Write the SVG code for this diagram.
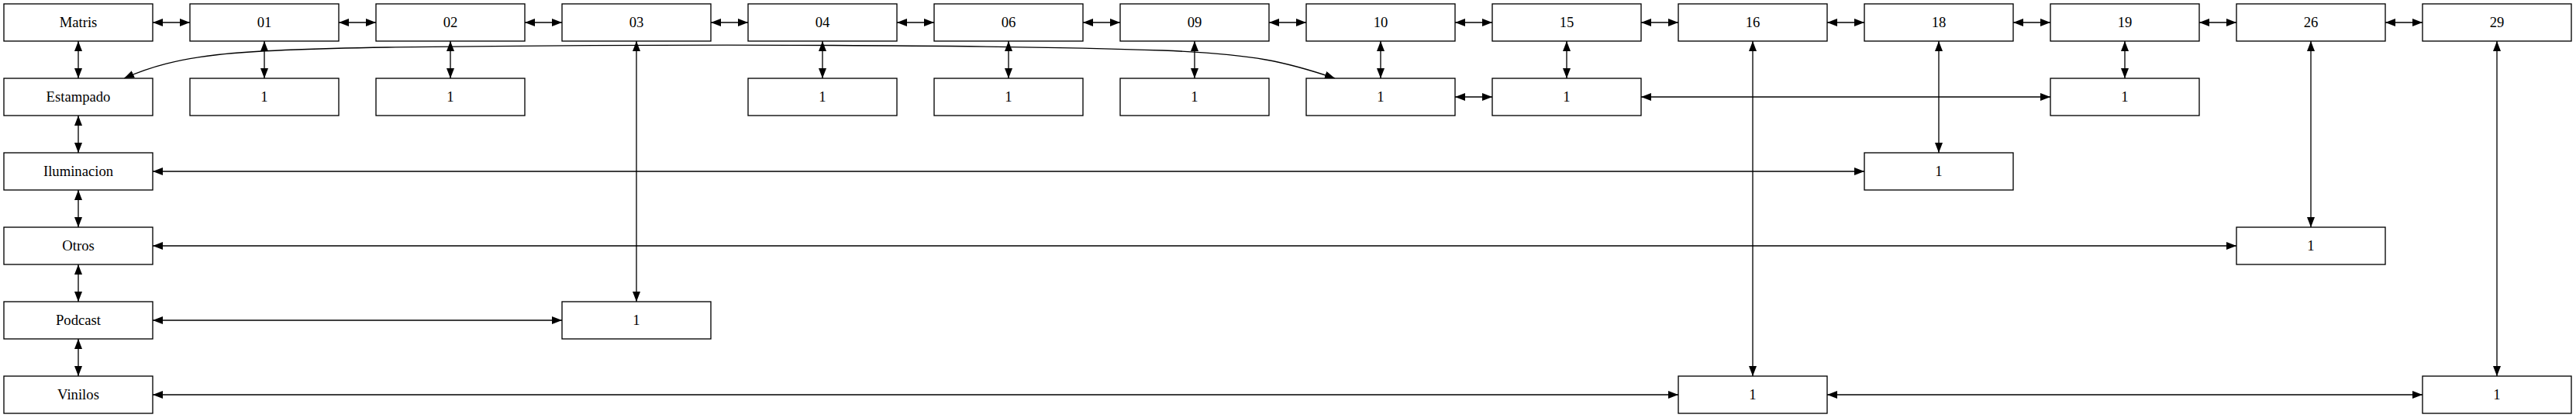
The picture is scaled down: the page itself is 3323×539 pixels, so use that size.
<svg xmlns="http://www.w3.org/2000/svg" width="3323" height="539" viewBox="0 0 3323 539">
<defs>
<marker id="ah" viewBox="0 0 13 10" refX="13" refY="5" markerWidth="13" markerHeight="10" markerUnits="userSpaceOnUse" orient="auto-start-reverse">
<path d="M0,0 L13,5 L0,10 z" fill="#000"/>
</marker>
<style>
.n rect{fill:#fff;stroke:#000;stroke-width:1.33}
.n text{font-family:"Liberation Serif","Times New Roman",serif;font-size:18.67px;text-anchor:middle;fill:#000}
#edges path{fill:none;stroke:#000;stroke-width:1.33;marker-start:url(#ah);marker-end:url(#ah)}
</style>
</defs>
<rect width="3323" height="539" fill="#fff"/>
<g id="edges">
<path d="M197,29 H245"/><path d="M437,29 H485"/><path d="M677,29 H725"/><path d="M917,29 H965"/>
<path d="M1157,29 H1205"/><path d="M1397,29 H1445"/><path d="M1637,29 H1685"/><path d="M1877,29 H1925"/>
<path d="M2117,29 H2165"/><path d="M2357,29 H2405"/><path d="M2597,29 H2645"/><path d="M2837,29 H2885"/>
<path d="M3077,29 H3125"/>
<path d="M101,53 V101"/><path d="M101,149 V197"/><path d="M101,245 V293"/><path d="M101,341 V389"/><path d="M101,437 V485"/>
<path d="M341,53 V101"/><path d="M581,53 V101"/><path d="M1061,53 V101"/><path d="M1301,53 V101"/>
<path d="M1541,53 V101"/><path d="M1781,53 V101"/><path d="M2021,53 V101"/><path d="M2741,53 V101"/>
<path d="M821,53 V389"/><path d="M2261,53 V485"/><path d="M2501,53 V197"/><path d="M2981,53 V293"/><path d="M3221,53 V485"/>
<path d="M1877,125 H1925"/><path d="M2117,125 H2645"/>
<path d="M197,221 H2405"/><path d="M197,317 H2885"/><path d="M197,413 H725"/>
<path d="M197,509 H2165"/><path d="M2357,509 H3125"/>
<path d="M160,101 C230,70 300,64 500,61 C900,56 1300,58 1500,65 C1620,70 1660,80 1722,101"/>
</g>
<g id="n_matris" class="n"><rect x="5" y="5" width="192" height="48"/><text x="101" y="34.5">Matris</text></g>
<g id="n_01" class="n"><rect x="245" y="5" width="192" height="48"/><text x="341" y="34.5">01</text></g>
<g id="n_02" class="n"><rect x="485" y="5" width="192" height="48"/><text x="581" y="34.5">02</text></g>
<g id="n_03" class="n"><rect x="725" y="5" width="192" height="48"/><text x="821" y="34.5">03</text></g>
<g id="n_04" class="n"><rect x="965" y="5" width="192" height="48"/><text x="1061" y="34.5">04</text></g>
<g id="n_06" class="n"><rect x="1205" y="5" width="192" height="48"/><text x="1301" y="34.5">06</text></g>
<g id="n_09" class="n"><rect x="1445" y="5" width="192" height="48"/><text x="1541" y="34.5">09</text></g>
<g id="n_10" class="n"><rect x="1685" y="5" width="192" height="48"/><text x="1781" y="34.5">10</text></g>
<g id="n_15" class="n"><rect x="1925" y="5" width="192" height="48"/><text x="2021" y="34.5">15</text></g>
<g id="n_16" class="n"><rect x="2165" y="5" width="192" height="48"/><text x="2261" y="34.5">16</text></g>
<g id="n_18" class="n"><rect x="2405" y="5" width="192" height="48"/><text x="2501" y="34.5">18</text></g>
<g id="n_19" class="n"><rect x="2645" y="5" width="192" height="48"/><text x="2741" y="34.5">19</text></g>
<g id="n_26" class="n"><rect x="2885" y="5" width="192" height="48"/><text x="2981" y="34.5">26</text></g>
<g id="n_29" class="n"><rect x="3125" y="5" width="192" height="48"/><text x="3221" y="34.5">29</text></g>
<g id="n_estampado" class="n"><rect x="5" y="101" width="192" height="48"/><text x="101" y="130.5">Estampado</text></g>
<g id="n_01_1" class="n"><rect x="245" y="101" width="192" height="48"/><text x="341" y="130.5">1</text></g>
<g id="n_02_1" class="n"><rect x="485" y="101" width="192" height="48"/><text x="581" y="130.5">1</text></g>
<g id="n_04_1" class="n"><rect x="965" y="101" width="192" height="48"/><text x="1061" y="130.5">1</text></g>
<g id="n_06_1" class="n"><rect x="1205" y="101" width="192" height="48"/><text x="1301" y="130.5">1</text></g>
<g id="n_09_1" class="n"><rect x="1445" y="101" width="192" height="48"/><text x="1541" y="130.5">1</text></g>
<g id="n_10_1" class="n"><rect x="1685" y="101" width="192" height="48"/><text x="1781" y="130.5">1</text></g>
<g id="n_15_1" class="n"><rect x="1925" y="101" width="192" height="48"/><text x="2021" y="130.5">1</text></g>
<g id="n_19_1" class="n"><rect x="2645" y="101" width="192" height="48"/><text x="2741" y="130.5">1</text></g>
<g id="n_iluminacion" class="n"><rect x="5" y="197" width="192" height="48"/><text x="101" y="226.5">Iluminacion</text></g>
<g id="n_18_1" class="n"><rect x="2405" y="197" width="192" height="48"/><text x="2501" y="226.5">1</text></g>
<g id="n_otros" class="n"><rect x="5" y="293" width="192" height="48"/><text x="101" y="322.5">Otros</text></g>
<g id="n_26_1" class="n"><rect x="2885" y="293" width="192" height="48"/><text x="2981" y="322.5">1</text></g>
<g id="n_podcast" class="n"><rect x="5" y="389" width="192" height="48"/><text x="101" y="418.5">Podcast</text></g>
<g id="n_03_1" class="n"><rect x="725" y="389" width="192" height="48"/><text x="821" y="418.5">1</text></g>
<g id="n_vinilos" class="n"><rect x="5" y="485" width="192" height="48"/><text x="101" y="514.5">Vinilos</text></g>
<g id="n_16_1" class="n"><rect x="2165" y="485" width="192" height="48"/><text x="2261" y="514.5">1</text></g>
<g id="n_29_1" class="n"><rect x="3125" y="485" width="192" height="48"/><text x="3221" y="514.5">1</text></g>
</svg>
